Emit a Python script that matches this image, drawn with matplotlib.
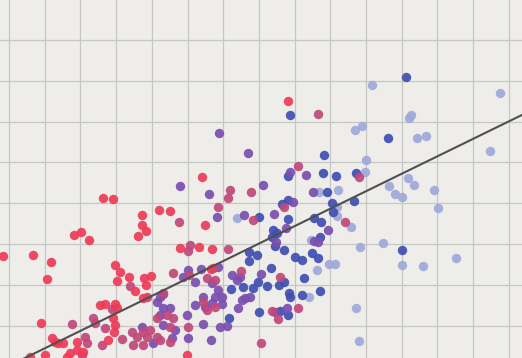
import matplotlib
matplotlib.use("Agg")
import matplotlib.pyplot as plt
import numpy as np

# values (y runs downward, like the image)
red_x = [288, 202, 103, 113, 142, 159, 170, 205, 142, 146, 138, 74, 81, 89, 180, 199, 212,
         3, 33, 51, 47, 115, 120, 117, 129, 144, 151, 146, 135, 211, 143, 100, 105, 115,
         117, 113, 115, 114, 108, 41, 52, 55, 58, 63, 77, 77, 83, 45, 30, 67, 70, 187]
red_y = [101, 177, 198, 199, 215, 210, 211, 225, 225, 231, 236, 235, 232, 240, 248, 247, 249,
         256, 255, 262, 279, 265, 272, 281, 277, 278, 276, 285, 291, 269, 298, 305, 304, 304,
         308, 318, 325, 332, 340, 323, 338, 342, 343, 343, 342, 350, 352, 355, 357, 357, 353, 355]

rasp_x = [318, 298, 359, 230, 228, 251, 218, 253, 179, 190, 188, 228, 284, 345, 280, 272,
          298, 278, 261, 213, 241, 207, 203, 207, 215, 173, 189, 215, 130, 147, 163, 112,
          93, 95, 72, 85, 87, 82, 102, 105, 122, 132, 137, 143, 147, 150, 157, 133, 143,
          160, 157, 167, 173, 170, 188, 170]
rasp_y = [114, 166, 177, 190, 198, 192, 207, 220, 222, 245, 251, 249, 207, 222, 277, 311,
          308, 319, 343, 268, 271, 278, 302, 310, 307, 273, 275, 280, 286, 297, 293, 309,
          318, 323, 324, 337, 343, 355, 345, 328, 339, 332, 337, 332, 337, 330, 337, 345, 345,
          340, 318, 315, 318, 327, 327, 342]

purple_x = [219, 248, 290, 306, 180, 209, 263, 217, 244, 274, 293, 313, 328, 286, 276, 314,
            318, 275, 287, 232, 237, 240, 261, 212, 218, 215, 203, 222, 245, 250, 242, 205,
            212, 222, 238, 203, 220, 227, 211, 188, 183, 201, 218, 163, 142, 153, 157, 163,
            160, 170, 175, 163, 160, 187, 188, 172, 195, 195]
purple_y = [133, 153, 172, 175, 186, 194, 185, 217, 215, 214, 202, 192, 230, 228, 242, 241,
            242, 312, 308, 275, 280, 277, 274, 283, 290, 297, 297, 297, 298, 297, 300, 307,
            303, 304, 308, 324, 327, 326, 340, 270, 277, 269, 267, 294, 327, 343, 302, 308,
            315, 308, 330, 325, 297, 315, 338, 338, 305, 282]

blue_x = [406, 290, 388, 324, 288, 323, 336, 356, 259, 249, 249, 257, 288, 282, 288, 327,
          332, 333, 354, 314, 321, 273, 277, 272, 275, 284, 320, 312, 318, 295, 302, 402,
          271, 267, 279, 284, 304, 289, 290, 302, 320, 280, 288, 259, 231, 243, 253, 258, 229]
blue_y = [77, 115, 138, 155, 176, 173, 176, 173, 217, 252, 261, 255, 200, 204, 219, 192,
          203, 212, 201, 218, 222, 230, 233, 237, 246, 250, 237, 253, 258, 257, 260, 250,
          268, 286, 285, 282, 278, 293, 297, 295, 291, 311, 315, 312, 289, 287, 288, 282, 318]

light_x = [372, 500, 409, 411, 355, 362, 417, 426, 490, 366, 365, 408, 237, 319, 338, 337,
           337, 351, 311, 317, 360, 383, 329, 335, 402, 423, 456, 414, 389, 395, 402, 434,
           438, 309, 356, 359]
light_y = [85, 93, 118, 115, 130, 126, 138, 136, 151, 160, 172, 178, 218, 192, 190, 207,
           216, 227, 240, 270, 247, 243, 264, 264, 265, 266, 258, 185, 186, 194, 197, 190,
           208, 297, 308, 341]

# trend line
fit_slope = -0.489
fit_intercept = 370.2

groups = [
    (light_x, light_y, "#9fa9da"),
    (blue_x, blue_y, "#3f4fb2"),
    (purple_x, purple_y, "#7b4fae"),
    (rasp_x, rasp_y, "#c0487b"),
    (red_x, red_y, "#ef3b57"),
]

fig = plt.figure(figsize=(5.22, 3.58), dpi=100)
fig.patch.set_facecolor("#eeede9")
ax = fig.add_axes([0, 0, 1, 1])
ax.set_facecolor("#eeede9")

for xs, ys, col in groups:
    ax.scatter(xs, ys, s=46, color=col, alpha=0.92, linewidths=0, zorder=3)

line_x = np.array([0, 522])
ax.plot(line_x, fit_slope * line_x + fit_intercept, color="#505050", linewidth=1.5, zorder=4)

ax.set_xlim(0, 522)
ax.set_ylim(358, 0)
ax.set_xticks(np.arange(9, 522, 35.7))
ax.set_yticks(np.arange(40, 358, 40.8))
ax.tick_params(length=0, labelbottom=False, labelleft=False)
ax.grid(True, color="#c6c6c2", linewidth=0.9)
ax.set_axisbelow(True)
for sp in ax.spines.values():
    sp.set_visible(False)

fig.savefig("out.png", dpi=100, facecolor=fig.get_facecolor())
